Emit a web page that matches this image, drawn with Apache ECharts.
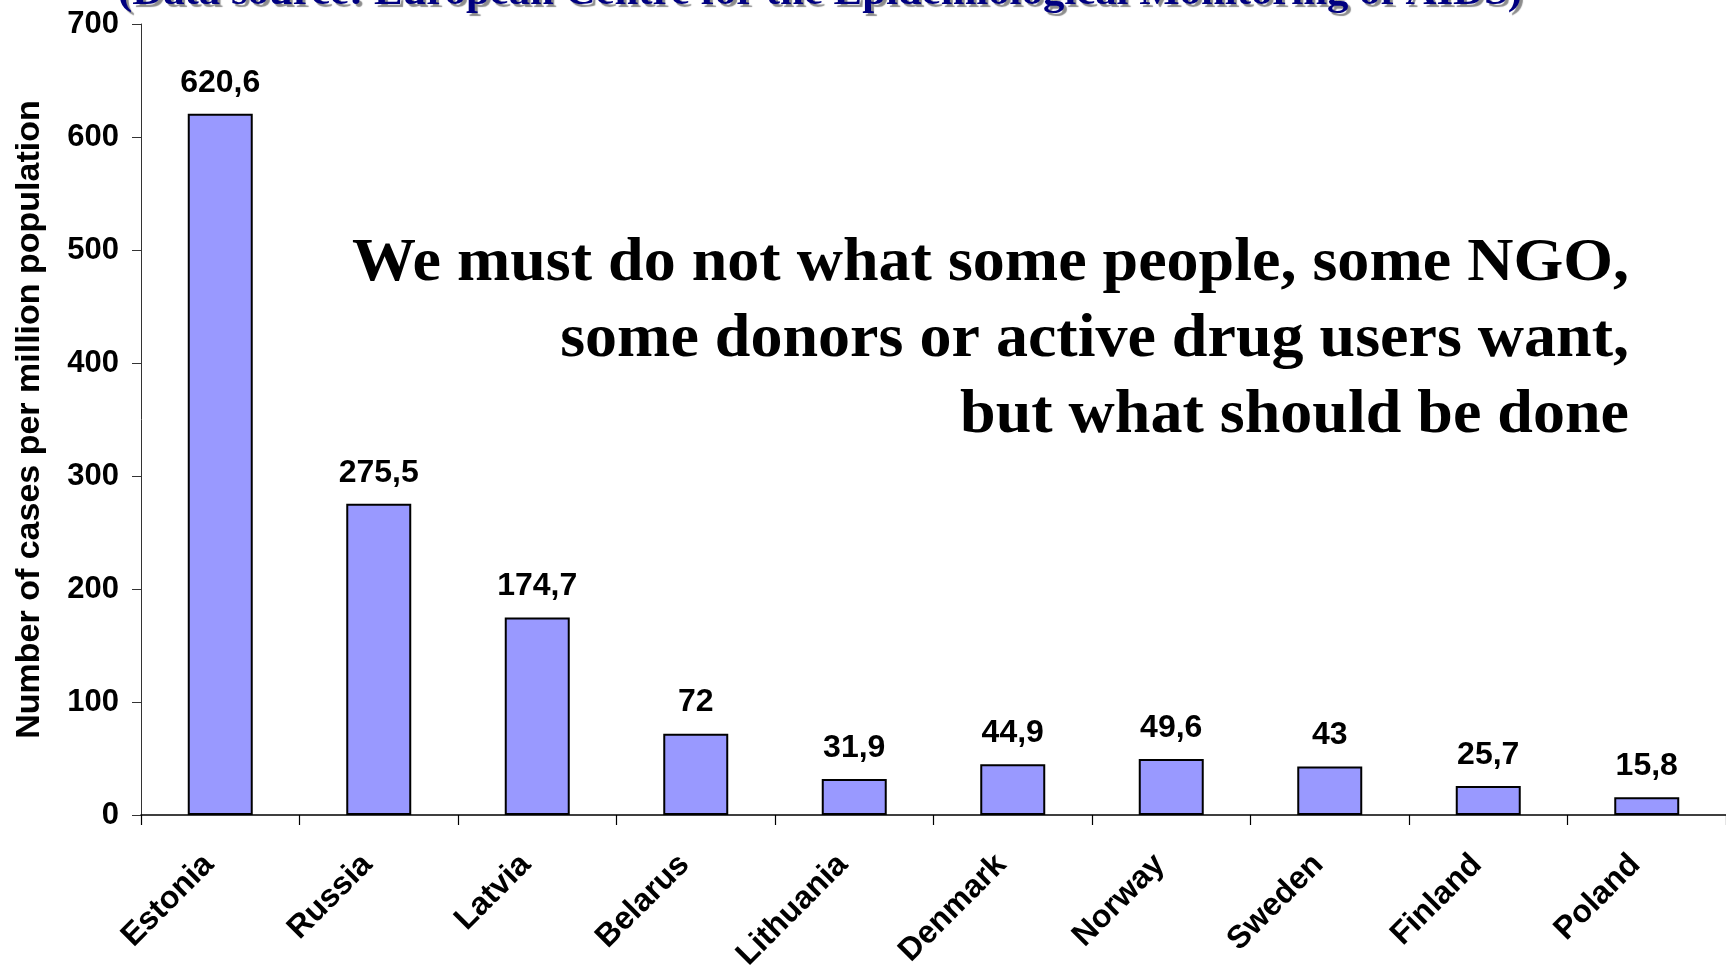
<!DOCTYPE html>
<html>
<head>
<meta charset="utf-8">
<title>Number of cases per million population</title>
<script src="https://cdn.jsdelivr.net/npm/echarts@6/dist/echarts.min.js"></script>
<style>
  html, body { margin: 0; padding: 0; background: #ffffff; }
  #chart { width: 1726px; height: 974px; }
</style>
</head>
<body>
<div id="chart"></div>
<script>
// Countries along the x axis
const countries = ['Estonia', 'Russia', 'Latvia', 'Belarus', 'Lithuania',
                   'Denmark', 'Norway', 'Sweden', 'Finland', 'Poland'];
// Cases per million population
const casesPerMillion = [620.6, 275.5, 174.7, 72, 31.9, 44.9, 49.6, 43, 25.7, 15.8];
// Value axis range
const yTicks = { min: 0, max: 700, step: 100 };

const sourceNote = '(Data source: European Centre for the Epidemiological Monitoring of AIDS)';
const statementLines = [
  'We must do not what some people, some NGO,',
  'some donors or active drug users want,',
  'but what should be done'
];

const SANS = '"Liberation Sans", Arial, sans-serif';
const SERIF = '"Liberation Serif", "Times New Roman", serif';

// Horizontal squeeze so condensed serif text spans the wanted width
function squeeze(text, font, targetWidth) {
  const ctx = document.createElement('canvas').getContext('2d');
  ctx.font = font;
  const w = ctx.measureText(text).width;
  return w > 0 ? targetWidth / w : 1;
}

const statementFont = 'bold 62px ' + SERIF;
const statementScale = squeeze(statementLines[0], statementFont, 1277);
const noteFont = 'bold 40px ' + SERIF;
const noteScale = squeeze(sourceNote, noteFont, 1404);

const statementGraphics = statementLines.map((line, i) => ({
  type: 'text',
  x: 1629,
  y: 264 + i * 76,
  scaleX: statementScale,
  z: 10,
  style: {
    text: line,
    font: statementFont,
    fill: '#000000',
    textAlign: 'right',
    textVerticalAlign: 'middle'
  }
}));

const chart = echarts.init(document.getElementById('chart'), null, { renderer: 'canvas' });

chart.setOption({
  backgroundColor: '#ffffff',
  animation: false,
  grid: {
    left: 141, right: 0, top: 24, bottom: 159,
    containLabel: false,
    outerBoundsMode: 'none'
  },
  xAxis: {
    type: 'category',
    data: countries,
    axisLine: { show: true, lineStyle: { color: '#000000', width: 1.5 } },
    axisTick: { show: true, length: 10, lineStyle: { color: '#000000', width: 1.2 } },
    axisLabel: {
      rotate: 45,
      margin: 56,
      interval: 0,
      verticalAlign: 'bottom',
      color: '#000000',
      fontFamily: SANS,
      fontWeight: 'bold',
      fontSize: 32
    }
  },
  yAxis: {
    type: 'value',
    min: yTicks.min,
    max: yTicks.max,
    interval: yTicks.step,
    name: 'Number of cases per million population',
    nameLocation: 'middle',
    nameRotate: 90,
    nameGap: 94,
    nameTextStyle: { color: '#000000', fontFamily: SANS, fontWeight: 'bold', fontSize: 34 },
    axisLine: { show: true, lineStyle: { color: '#333333', width: 1 } },
    axisTick: { show: true, inside: false, length: 9, lineStyle: { color: '#333333', width: 1 } },
    axisLabel: {
      margin: 22,
      color: '#000000',
      fontFamily: SANS,
      fontWeight: 'bold',
      fontSize: 31
    },
    splitLine: { show: false }
  },
  series: [{
    type: 'bar',
    data: casesPerMillion,
    barWidth: '41%',
    itemStyle: { color: '#9999FF', borderColor: '#000000', borderWidth: 2 },
    label: {
      show: true,
      position: 'top',
      distance: 15,
      color: '#000000',
      fontFamily: SANS,
      fontWeight: 'bold',
      fontSize: 32,
      formatter: p => String(p.value).replace('.', ',')
    }
  }],
  graphic: [
    {
      type: 'text',
      x: 820,
      y: -6,
      scaleX: noteScale,
      z: 10,
      style: {
        text: sourceNote,
        font: noteFont,
        fill: '#000080',
        textAlign: 'center',
        textVerticalAlign: 'middle',
        textShadowColor: 'rgba(0,0,0,0.45)',
        textShadowOffsetX: 3,
        textShadowOffsetY: 3,
        textShadowBlur: 1
      }
    }
  ].concat(statementGraphics)
});
</script>
</body>
</html>
